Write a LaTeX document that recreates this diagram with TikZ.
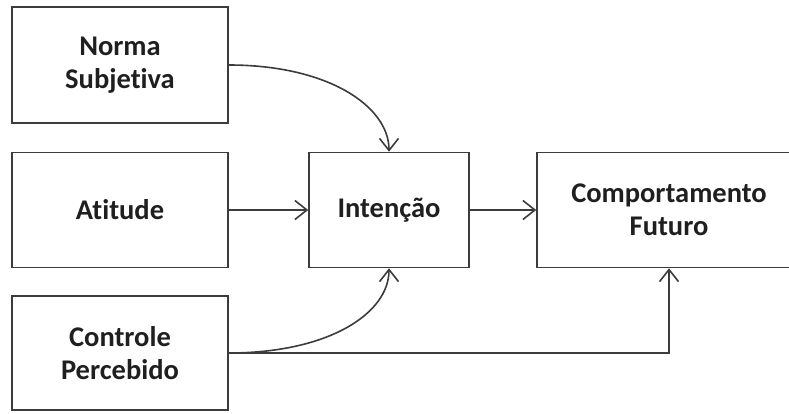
\documentclass[tikz,border=0pt]{standalone}
\usepackage{fontspec}
\setmainfont{Carlito}[Ligatures=CommonOff]
\usetikzlibrary{arrows.meta}
\definecolor{linegray}{HTML}{3C3C3C}
\begin{document}
\begin{tikzpicture}[x=1pt,y=-1pt,
  box/.style={draw=linegray, line width=1.6pt, rectangle, align=center,
    inner sep=0pt, font=\fontsize{28.5}{33}\selectfont\bfseries, text=black!88},
  link/.style={draw=linegray, line width=1.6pt,
    -{Straight Barb[length=12pt,width=19pt,line width=1.6pt]}}]
  \useasboundingbox (0,0) rectangle (789,413);
  % left column
  \node[box, minimum width=216pt, minimum height=116pt] (norma) at (120,65) {Norma\\Subjetiva};
  \node[box, minimum width=216pt, minimum height=115pt] (atitude) at (120,210) {Atitude};
  \node[box, minimum width=216pt, minimum height=114pt] (controle) at (120,353) {Controle\\Percebido};
  % middle and right (the right box runs past the page edge)
  \node[box, minimum width=160pt, minimum height=115pt] (intencao) at (389,210) {Intenção};
  \node[box, minimum width=264pt, minimum height=115pt] (comport) at (669,210) {Comportamento\\Futuro};
  \coordinate (turn) at (comport.south |- controle.east);
  % connectors
  \draw[link] (norma.east) .. controls +(100,0) and +(0,-45) .. (intencao.north);
  \draw[link] (atitude) -- (intencao);
  \draw[link] (intencao) -- (comport);
  \draw[link] (controle.east) .. controls +(100,0) and +(0,45) .. (intencao.south);
  \draw[link] (controle.east) -- (turn) -- (comport.south);
\end{tikzpicture}
\end{document}
